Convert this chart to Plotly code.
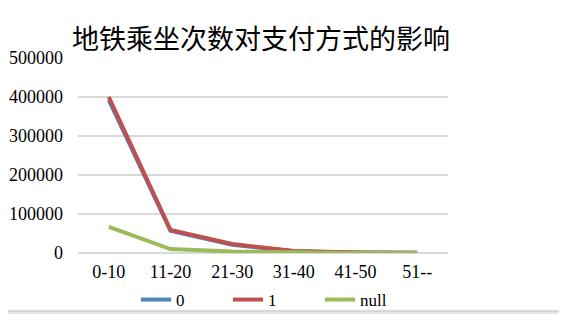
import plotly.graph_objects as go

categories = ["0-10", "11-20", "21-30", "31-40", "41-50", "51--"]
series_0 = [392000, 57000, 21000, 4500, 1300, 400]
series_1 = [400000, 59000, 23000, 5000, 1500, 500]
series_null = [67000, 10000, 4000, 1000, 300, 100]
y_ticks = [0, 100000, 200000, 300000, 400000, 500000]
title_text = "地铁乘坐次数对支付方式的影响"

fig = go.Figure()
for name, vals, color in [("0", series_0, "#4f81bd"), ("1", series_1, "#c0504d"), ("null", series_null, "#9bbb59")]:
    fig.add_trace(go.Scatter(x=categories, y=vals, name=name, mode="lines",
                             line=dict(color=color, width=4)))

# figure is placed at (8, 8) in the page by the default body margin
W, H = 559, 306
L, T, PW, PH = 70, 50, 370, 195
serif = "Liberation Serif, Times New Roman, serif"
fig.update_layout(
    width=W, height=H,
    margin=dict(l=L, r=W - L - PW, t=T, b=H - T - PH, autoexpand=False),
    paper_bgcolor="#e6e6e6", plot_bgcolor="white",
    title=dict(text=title_text, x=253/W, xanchor="center", y=1-32/H, yanchor="middle",
               font=dict(family="Noto Sans CJK SC", size=27, color="#000000")),
    xaxis=dict(type="category", range=[-0.5, 5.5], showgrid=False, showline=False, ticks="",
               tickfont=dict(family=serif, size=18, color="#000"), ticklabelstandoff=6),
    yaxis=dict(range=[0, 500000], tickvals=y_ticks, ticktext=[str(v) for v in y_ticks],
               showgrid=True, gridcolor="#d9d9d9", gridwidth=1.5, zeroline=True,
               zerolinecolor="#d9d9d9", zerolinewidth=1.5, showline=False,
               tickfont=dict(family=serif, size=18, color="#000"), ticklabelstandoff=14),
    legend=dict(orientation="h", x=(136 - 8 - L)/PW, xanchor="left", y=-47/PH, yanchor="middle",
                font=dict(family=serif, size=17, color="#000"),
                entrywidth=47, entrywidthmode="pixels",
                tracegroupgap=0, bgcolor="rgba(0,0,0,0)"),
    shapes=[dict(type="rect", xref="paper", yref="paper", layer="below",
                 x0=-(L + 20)/PW, x1=(555 - L)/PW,
                 y0=-(303 - T - PH)/PH, y1=1 + (T + 20)/PH,
                 fillcolor="white", line=dict(color="#d0d0d0", width=1.5))],
)
fig.write_html("out.html")
